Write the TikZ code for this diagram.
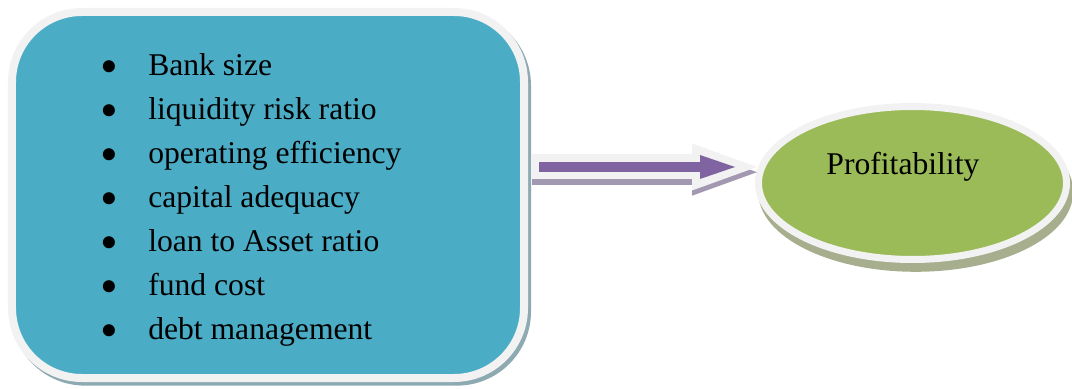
\documentclass[tikz,border=0pt]{standalone}
\usepackage{fontspec}
\setmainfont{Liberation Serif}
\usetikzlibrary{arrows.meta, positioning, calc, shapes.geometric, shadows}

\definecolor{boxfill}{HTML}{4BACC6}
\definecolor{goalfill}{HTML}{9BBB59}
\definecolor{flowfill}{HTML}{8064A2}
\definecolor{rim}{HTML}{F2F2F2}
\definecolor{boxshade}{HTML}{8DAAB2}
\definecolor{goalshade}{HTML}{A6AE8E}
\definecolor{flowshade}{HTML}{A398B1}

\newcommand{\factoritem}{\makebox[1.2cm][l]{\smash{\raisebox{-0.2cm}{\scalebox{1.6}{\textbullet}}}}}

\begin{document}
\begin{tikzpicture}[
  factorbox/.style = {draw=rim, line width=0.2cm, fill=boxfill, rounded corners=1.75cm,
    minimum width=12.8cm, minimum height=9.15cm,
    drop shadow={shadow xshift=0.075cm, shadow yshift=-0.09cm, opacity=1, fill=boxshade, draw=boxshade, line width=0.2cm}},
  goal/.style = {ellipse, draw=rim, line width=0.175cm, fill=goalfill, inner sep=0pt,
    minimum width=7.7cm, minimum height=3.825cm,
    drop shadow={shadow xshift=0.08cm, shadow yshift=-0.22cm, opacity=1, fill=goalshade, draw=goalshade, line width=0.175cm}},
  label_text/.style = {inner sep=0pt, align=left, font=\fontsize{22.5}{31.3}\selectfont},
  rim_arrow/.style = {line width=0.625cm, -{Triangle[length=1.625cm, width=1.175cm, line width=0pt]}},
  flow_arrow/.style = {draw=flowfill, line width=0.25cm, shorten <=0.175cm, shorten >=0.55cm,
    -{Triangle[length=0.875cm, width=0.6cm, line width=0pt]}}
]
\useasboundingbox (0,0) rectangle (26.8,9.7);

%--------------------------------------------------
% Determinants (rounded box) and profitability (ellipse)
%--------------------------------------------------
\node[factorbox] (box) at (6.7,4.825) {};
\node[goal, right=5.675cm of box, yshift=0.3cm] (goal) {};

\node[label_text, anchor=west] (factors) at ($(box.west)+(2.3,-0.125)$)
  {\factoritem Bank size\\
   \factoritem liquidity risk ratio\\
   \factoritem operating efficiency\\
   \factoritem capital adequacy\\
   \factoritem loan to Asset ratio\\
   \factoritem fund cost\\
   \factoritem debt management};

\node[label_text] (goaltext) at ($(goal.center)+(-0.24,0.4)$) {Profitability};

%--------------------------------------------------
% Block arrow
%--------------------------------------------------
\coordinate (flowstart) at ($(box.east)+(0.1,0.7)$);
\coordinate (flowend) at ($(goal.west)+(0.05,0.4)$);

\draw[rim_arrow, draw=flowshade, transform canvas={yshift=-0.13cm}] (flowstart) -- (flowend);
\draw[rim_arrow, draw=rim] (flowstart) -- (flowend);
\draw[flow_arrow] (flowstart) -- (flowend);

\end{tikzpicture}
\end{document}
